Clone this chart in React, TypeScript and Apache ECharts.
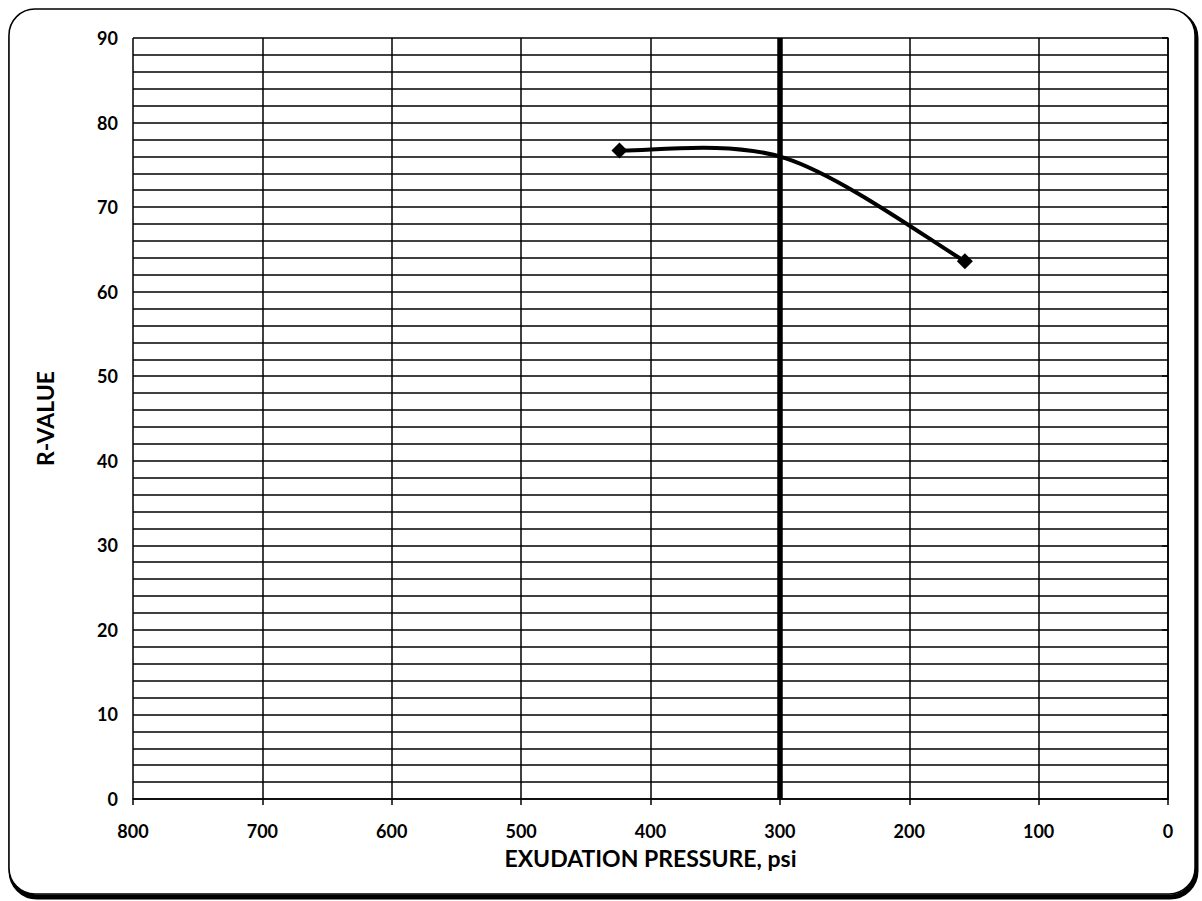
import React, { useEffect, useRef } from "react";
import * as echarts from "echarts";

const pressure = [424, 296, 157];
const rValue = [76.7, 75.8, 63.6];
const showMarker = [true, false, true];
const xTicks = [0, 100, 200, 300, 400, 500, 600, 700, 800];
const yTicks = [0, 10, 20, 30, 40, 50, 60, 70, 80, 90];
const referencePressure = [300];

const FONT = "Lato, 'Open Sans', sans-serif";

export default function App() {
  const ref = useRef<HTMLDivElement>(null);
  useEffect(() => {
    if (!ref.current) return;
    const chart = echarts.init(ref.current, null, { renderer: "svg" });
    const points = pressure.map((p, i) => [p, rValue[i]]);
    const markerPoints = points.filter((_, i) => showMarker[i]);

    // Excel-style (Catmull-Rom) smoothed segment between point i and i+1
    const renderSegment = (params: any, api: any) => {
      const i = params.dataIndexInside;
      const n = params.dataInsideLength;
      if (i >= n - 1) return null;
      const pt = (j: number) => {
        const k = Math.max(0, Math.min(n - 1, j));
        return api.coord([api.value(0, k), api.value(1, k)]);
      };
      const p0 = pt(i - 1);
      const p1 = pt(i);
      const p2 = pt(i + 1);
      const p3 = pt(i + 2);
      return {
        type: "bezierCurve",
        shape: {
          x1: p1[0],
          y1: p1[1],
          cpx1: p1[0] + (p2[0] - p0[0]) / 6,
          cpy1: p1[1] + (p2[1] - p0[1]) / 6,
          cpx2: p2[0] - (p3[0] - p1[0]) / 6,
          cpy2: p2[1] - (p3[1] - p1[1]) / 6,
          x2: p2[0],
          y2: p2[1],
        },
        style: { stroke: "#000", lineWidth: 4, fill: "none", lineCap: "round" },
      };
    };

    chart.setOption({
      animation: false,
      backgroundColor: "#ffffff",
      grid: { left: 133, right: 34, top: 38, bottom: 102 },
      graphic: [
        {
          type: "rect",
          shape: { x: 11, y: 12, width: 1185, height: 885, r: 26 },
          style: { fill: "none", stroke: "#000", lineWidth: 5 },
          z: -1,
        },
        {
          type: "rect",
          shape: { x: 9, y: 9, width: 1186, height: 885, r: 26 },
          style: { fill: "#fff", stroke: "#000", lineWidth: 1.5 },
          z: -1,
        },
      ],
      xAxis: {
        type: "value",
        inverse: true,
        min: 0,
        max: 800,
        interval: 100,
        name: "EXUDATION PRESSURE, psi",
        nameLocation: "middle",
        nameGap: 47,
        nameTextStyle: {
          fontFamily: FONT,
          fontWeight: "bold",
          fontSize: 23,
          color: "#000",
        },
        axisLine: { show: true, lineStyle: { color: "#000", width: 1.5 } },
        axisTick: { show: true, inside: false, length: 6, lineStyle: { color: "#000", width: 1.5 } },
        axisLabel: {
          fontFamily: FONT,
          fontSize: 18,
          fontWeight: "bold",
          color: "#000",
          margin: 23,
          formatter: (v: number) => (xTicks.includes(v) ? String(v) : ""),
        },
        splitLine: { show: true, lineStyle: { color: "#000", width: 1.5 } },
      },
      yAxis: {
        type: "value",
        min: 0,
        max: 90,
        interval: 10,
        name: "R-VALUE",
        nameLocation: "middle",
        nameGap: 77,
        nameRotate: 90,
        nameTextStyle: { fontFamily: FONT, fontWeight: "bold", fontSize: 23, color: "#000" },
        axisLine: { show: true, lineStyle: { color: "#000", width: 1.5 } },
        axisTick: { show: true, inside: false, length: 6, lineStyle: { color: "#000", width: 1.5 } },
        axisLabel: {
          fontFamily: FONT,
          fontSize: 18,
          fontWeight: "bold",
          color: "#000",
          margin: 15,
          formatter: (v: number) => (yTicks.includes(v) ? String(v) : ""),
        },
        splitLine: { show: true, lineStyle: { color: "#000", width: 1.5 } },
        minorTick: { show: false, splitNumber: 5 },
        minorSplitLine: { show: true, lineStyle: { color: "#000", width: 1.5 } },
      },
      series: [
        {
          type: "custom",
          coordinateSystem: "cartesian2d",
          data: points,
          encode: { x: 0, y: 1 },
          renderItem: renderSegment,
          z: 5,
          silent: true,
          markLine: {
            silent: true,
            symbol: ["none", "none"],
            label: { show: false },
            lineStyle: { color: "#000", width: 5.5, type: "solid" },
            data: referencePressure.map((x) => ({ xAxis: x })),
          },
        },
        {
          type: "scatter",
          data: markerPoints,
          symbol: "diamond",
          symbolSize: 16,
          itemStyle: { color: "#000", opacity: 1 },
          z: 6,
        },
      ],
    });
    return () => chart.dispose();
  }, []);
  return (
    <div
      ref={ref}
      style={{ position: "absolute", left: 0, top: 0, width: 1202, height: 901 }}
    />
  );
}
